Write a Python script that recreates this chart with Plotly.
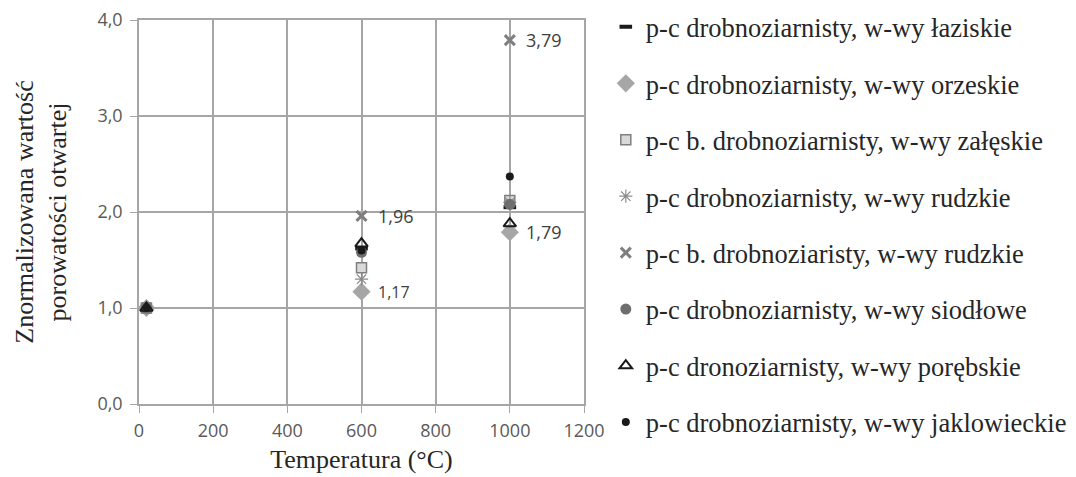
import plotly.graph_objects as go

temps = [20, 600, 1000]
names = [
    "p-c drobnoziarnisty, w-wy łaziskie",
    "p-c drobnoziarnisty, w-wy orzeskie",
    "p-c b. drobnoziarnisty, w-wy załęskie",
    "p-c drobnoziarnisty, w-wy rudzkie",
    "p-c b. drobnoziaristy, w-wy rudzkie",
    "p-c drobnoziarnisty, w-wy siodłowe",
    "p-c dronoziarnisty, w-wy porębskie",
    "p-c drobnoziarnisty, w-wy jaklowieckie",
]
laziskie = [1.0, 1.62, 2.05]
orzeskie = [1.0, 1.17, 1.79]
zaleskie = [1.0, 1.42, 2.12]
rudzkie = [1.0, 1.30, 2.10]
b_rudzkie = [1.0, 1.96, 3.79]
siodlowe = [1.0, 1.58, 2.08]
porebskie = [1.0, 1.67, 1.88]
jaklowieckie = [1.0, 1.60, 2.37]
series = [laziskie, orzeskie, zaleskie, rudzkie, b_rudzkie, siodlowe, porebskie, jaklowieckie]

styles = [
    dict(symbol="line-ew", size=9, color="#1a1a1a", line=dict(color="#1a1a1a", width=4)),
    dict(symbol="diamond", size=14, color="#a6a6a6", line=dict(color="#a6a6a6", width=0)),
    dict(symbol="square", size=10, color="#d9d9d9", line=dict(color="#7f7f7f", width=1.5)),
    dict(symbol="asterisk-open", size=11, color="#8c8c8c", line=dict(color="#8c8c8c", width=1.2)),
    dict(symbol="x-thin-open", size=10, color="#7f7f7f", line=dict(color="#7f7f7f", width=3)),
    dict(symbol="circle", size=11, color="#6e6e6e", line=dict(color="#6e6e6e", width=0)),
    dict(symbol="triangle-up-open", size=11, color="#1a1a1a", line=dict(color="#1a1a1a", width=2)),
    dict(symbol="circle", size=8, color="#1a1a1a", line=dict(color="#1a1a1a", width=0)),
]

fig = go.Figure()
for i, (n, s, st) in enumerate(zip(names, series, styles)):
    fig.add_trace(go.Scatter(x=temps, y=s, mode="markers", name=n, marker=st,
                             legendgroup=str(i)))

labels = [(600, b_rudzkie[1], "1,96", 18), (600, orzeskie[1], "1,17", 16),
          (1000, b_rudzkie[2], "3,79", 18), (1000, orzeskie[2], "1,79", 18)]
for x, y, t, fs in labels:
    fig.add_annotation(x=x, y=y, text=t, showarrow=False, xanchor="left", xshift=14,
                       font=dict(family="Open Sans, sans-serif", size=fs, color="#404040"))

axis_common = dict(showgrid=True, gridcolor="#a6a6a6", gridwidth=1.5, zeroline=False,
                   showline=True, linecolor="#a6a6a6", linewidth=1.5,
                   ticks="outside", ticklen=7, tickcolor="#a6a6a6", automargin=False,
                   ticklabeloverflow="allow",
                   tickfont=dict(family="Open Sans, sans-serif", size=18, color="#595959"))

fig.update_layout(
    width=1068, height=469,
    margin=dict(l=131, r=492, t=12, b=73, autoexpand=False),
    plot_bgcolor="white", paper_bgcolor="white",
    separators=", ",
    xaxis=dict(range=[0, 1200], dtick=200, mirror=True, ticklabelstandoff=3,
               title=dict(text="Temperatura (°C)", standoff=8,
                          font=dict(family="Liberation Serif, serif", size=26, color="#262626")),
               **axis_common),
    yaxis=dict(range=[0, 4], dtick=1, tickformat=".1f", mirror=True, ticklabelstandoff=4,
               title=dict(text="Znormalizowana wartość<br>porowatości otwartej", standoff=23,
                          font=dict(family="Liberation Serif, serif", size=26, color="#262626")),
               **axis_common),
    legend=dict(x=1.049, y=1.044, xanchor="left", yanchor="top", tracegroupgap=19,
                font=dict(family="Liberation Serif, serif", size=26.5, color="#262626"),
                itemwidth=30, maxheight=470),
    showlegend=True,
)

fig.write_html("out.html")
